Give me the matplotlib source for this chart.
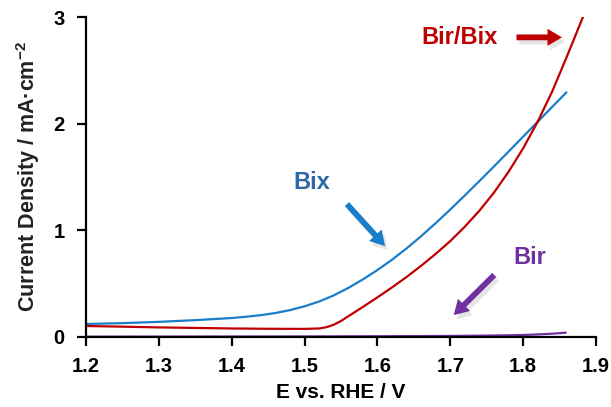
import numpy as np
import matplotlib
matplotlib.use("Agg")
import matplotlib.pyplot as plt
import matplotlib.patheffects as pe

plt.rcParams['font.family'] = ['Liberation Sans', 'DejaVu Sans']
plt.rcParams['font.weight'] = 'bold'
plt.rcParams['mathtext.fontset'] = 'custom'
plt.rcParams['mathtext.rm'] = 'Liberation Sans:bold'
plt.rcParams['mathtext.bf'] = 'Liberation Sans:bold'

# ── DATA ──────────────────────────────────────────

bix_e = [1.20, 1.25, 1.30, 1.35, 1.40, 1.42, 1.44, 1.46, 1.48, 1.50, 1.52,
         1.54, 1.56, 1.58, 1.60, 1.62, 1.64, 1.66, 1.68, 1.70, 1.72, 1.74,
         1.76, 1.78, 1.80, 1.82, 1.84, 1.859]
bix_j = [0.122, 0.130, 0.142, 0.158, 0.178, 0.190, 0.205, 0.225, 0.252,
         0.288, 0.333, 0.390, 0.460, 0.540, 0.628, 0.725, 0.831, 0.946,
         1.068, 1.196, 1.328, 1.463, 1.600, 1.739, 1.879, 2.019, 2.159,
         2.292]

birbix_e = [1.20, 1.25, 1.30, 1.35, 1.40, 1.45, 1.50, 1.52, 1.53, 1.54, 1.55,
            1.56, 1.57, 1.58, 1.59, 1.60, 1.62, 1.64, 1.66, 1.68, 1.70, 1.72,
            1.74, 1.76, 1.78, 1.80, 1.82, 1.84, 1.86, 1.882]
birbix_j = [0.103, 0.097, 0.090, 0.085, 0.080, 0.077, 0.076, 0.080, 0.092,
            0.115, 0.150, 0.195, 0.238, 0.282, 0.327, 0.372, 0.465, 0.563,
            0.668, 0.780, 0.900, 1.035, 1.185, 1.355, 1.550, 1.770, 2.020,
            2.305, 2.630, 3.000]

bir_e = [1.20, 1.50, 1.65, 1.70, 1.75, 1.78, 1.80, 1.82, 1.84, 1.858]
bir_j = [0.003, 0.005, 0.008, 0.010, 0.013, 0.016, 0.019, 0.024, 0.031, 0.040]

x_ticks = [1.2, 1.3, 1.4, 1.5, 1.6, 1.7, 1.8, 1.9]
y_ticks = [0, 1, 2, 3]

BLUE = "#1a7dc9"
RED = "#c00000"
PURPLE = "#7030a0"

# ── PLOT ──────────────────────────────────────────

fig = plt.figure(figsize=(6.11, 4.07), dpi=100)
ax = fig.add_axes([0.1408, 0.172, 0.8347, 0.786])

ax.plot(bix_e, bix_j, color=BLUE, lw=1.6)
ax.plot(birbix_e, birbix_j, color=RED, lw=1.6)
ax.plot(bir_e, bir_j, color=PURPLE, lw=1.6)

ax.set_xlim(1.2, 1.9)
ax.set_ylim(0, 3)
ax.set_xticks(x_ticks)
ax.set_xticklabels([f"{v:.1f}" for v in x_ticks])
ax.set_yticks(y_ticks)

for s in ("top", "right"):
    ax.spines[s].set_visible(False)
for s in ("left", "bottom"):
    ax.spines[s].set_linewidth(1.6)
ax.tick_params(direction="out", length=6.5, width=1.6, labelsize=14.5)
ax.tick_params(axis="y", pad=9)
ax.tick_params(axis="x", pad=8)
for lab in ax.get_xticklabels() + ax.get_yticklabels():
    lab.set_fontweight("bold")

ax.set_xlabel("E vs. RHE / V", fontsize=15, fontweight="bold", labelpad=5)
ax.set_ylabel(r"Current Density / mA·cm$^{\mathbf{-2}}$", fontsize=15.5,
              fontweight="bold", labelpad=8, color="#222222")

shadow = [pe.SimplePatchShadow(offset=(2, -3), shadow_rgbFace="#999999", alpha=0.25),
          pe.Normal()]
astyle = "simple,tail_width=0.32,head_width=0.95,head_length=0.8"

def label_arrow(text, txy, start, tip, tcolor, acolor):
    ax.text(txy[0], txy[1], text, color=tcolor, fontsize=17, fontweight="bold",
            ha="center", va="center")
    ax.annotate("", xy=tip, xytext=start,
                arrowprops=dict(arrowstyle=astyle, mutation_scale=13,
                                color=acolor, lw=0, path_effects=shadow))

label_arrow("Bix", (1.510, 1.453), (1.5555, 1.266), (1.613, 0.834), "#2d6aa6", BLUE)
label_arrow("Bir/Bix", (1.713, 2.81), (1.787, 2.81), (1.857, 2.81), RED, RED)
label_arrow("Bir", (1.809, 0.75), (1.763, 0.60), (1.702, 0.1875), PURPLE, PURPLE)

fig.savefig("out.png", dpi=100)
